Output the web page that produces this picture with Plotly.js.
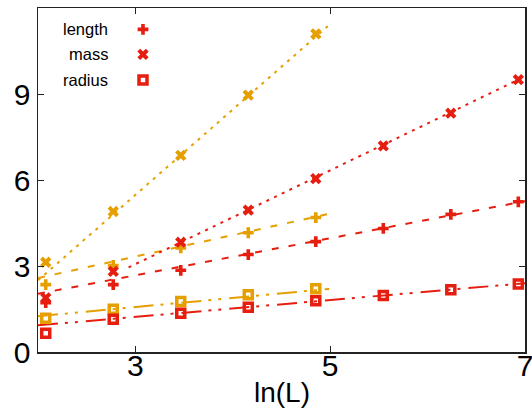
<!DOCTYPE html>
<html>
<head>
<meta charset="utf-8">
<script src="https://cdn.plot.ly/plotly-3.0.1.min.js"></script>
<style>
  html, body { margin: 0; padding: 0; background: #fff; }
  #chart { width: 532px; height: 408px; }
</style>
</head>
<body>
<div id="chart"></div>
<script>
// System sizes L; x axis is ln(L)
const sizesRed = [8, 16, 32, 64, 128, 256, 512, 1024];
const sizesOrange = [8, 16, 32, 64, 128];

// Red series (all sizes)
const redLength = [1.72, 2.35, 2.85, 3.40, 3.85, 4.31, 4.80, 5.24];
const redMass   = [1.89, 2.81, 3.83, 4.95, 6.05, 7.19, 8.33, 9.50];
const redRadius = [0.65, 1.14, 1.35, 1.56, 1.79, 1.97, 2.17, 2.37];

// Orange series (smaller sizes)
const orangeLength = [2.35, 3.02, 3.63, 4.16, 4.69];
const orangeMass   = [3.13, 4.90, 6.86, 8.96, 11.10];
const orangeRadius = [1.18, 1.49, 1.76, 2.00, 2.21];

// Fitted straight lines (end points in ln(L), value)
const redLengthFitX = [2, 7],     redLengthFitY = [2.03, 5.26];
const redMassFitX = [2.93, 7],    redMassFitY = [2.95, 9.61];
const redRadiusFitX = [2, 7],     redRadiusFitY = [0.93, 2.40];
const orangeLengthFitX = [2, 4.99], orangeLengthFitY = [2.58, 4.82];
const orangeMassFitX = [2, 4.99],   orangeMassFitY = [2.50, 11.41];
const orangeRadiusFitX = [2, 4.99], orangeRadiusFitY = [1.25, 2.20];

// Axis ticks and labels
const xTicks = [3, 5, 7];
const yTicks = [0, 3, 6, 9];
const xTitle = 'ln(L)';

// Legend
const legendNames = ['length', 'mass', 'radius'];

const RED = '#e51e10';
const ORANGE = '#e69f00';
const FONT = 'Liberation Sans, Arial, Helvetica, sans-serif';

const xRed = sizesRed.map(Math.log);
const xOrange = sizesOrange.map(Math.log);

const DASH_LEN = '7px,10px';
const DASH_MASS = '3px,5.5px';
const DASH_RAD = '20px,7px,3px,7px,3px,8px';

function fitLine(x, y, color, dash) {
  return { x: x, y: y, type: 'scatter', mode: 'lines', showlegend: false, hoverinfo: 'skip',
           line: { color: color, width: 2, dash: dash } };
}
const mk = {
  length: (c) => ({ symbol: 'cross', size: 9, color: c, line: { width: 0 } }),
  mass:   (c) => ({ symbol: 'x', size: 10, color: c, line: { width: 0 } }),
  radius: (c) => ({ symbol: 'square-open', size: 8, color: c, line: { width: 3.5, color: c } })
};
function pts(x, y, marker) {
  return { x: x, y: y, type: 'scatter', mode: 'markers', showlegend: false, marker: marker };
}

const traces = [
  fitLine(orangeMassFitX, orangeMassFitY, ORANGE, DASH_MASS),
  fitLine(orangeLengthFitX, orangeLengthFitY, ORANGE, DASH_LEN),
  fitLine(orangeRadiusFitX, orangeRadiusFitY, ORANGE, DASH_RAD),
  fitLine(redMassFitX, redMassFitY, RED, DASH_MASS),
  fitLine(redLengthFitX, redLengthFitY, RED, DASH_LEN),
  fitLine(redRadiusFitX, redRadiusFitY, RED, DASH_RAD),
  pts(xOrange, orangeMass, mk.mass(ORANGE)),
  pts(xOrange, orangeLength, mk.length(ORANGE)),
  pts(xOrange, orangeRadius, mk.radius(ORANGE)),
  pts(xRed, redMass, mk.mass(RED)),
  pts(xRed, redLength, mk.length(RED)),
  pts(xRed, redRadius, mk.radius(RED)),
];

// legend key symbols, in a hidden overlay axis spanning the plot area (0..1)
const keyX = 0.2156;
const keyY = [0.938, 0.865, 0.791];
const keyMarkers = [mk.length(RED), mk.mass(RED), mk.radius(RED)];
keyMarkers.forEach((m, i) => {
  traces.push({ x: [keyX], y: [keyY[i]], xaxis: 'x2', yaxis: 'y2', type: 'scatter',
                mode: 'markers', showlegend: false, hoverinfo: 'skip', marker: m });
});

const annotations = legendNames.map((n, i) => ({
  text: n, xref: 'paper', yref: 'paper', x: 0.147, y: keyY[i],
  xanchor: 'right', yanchor: 'middle', showarrow: false,
  font: { family: FONT, size: 16.5, color: '#000' }
}));
// x-axis title (placed as annotation so it can sit as low as in the original)
annotations.push({
  text: xTitle, xref: 'paper', yref: 'paper', x: 0.5, y: -0.068,
  xanchor: 'center', yanchor: 'top', showarrow: false,
  font: { family: FONT, size: 28, color: '#000' }
});

const axisCommon = {
  ticks: 'inside', ticklen: 6, tickwidth: 1, tickcolor: '#222',
  mirror: 'allticks', showline: true, linecolor: '#222', linewidth: 1.5,
  showgrid: false, zeroline: false, ticklabeloverflow: 'allow',
  tickfont: { family: FONT, size: 30, color: '#000' }
};

const layout = {
  width: 532, height: 408,
  margin: { l: 38, r: 7, t: 8, b: 56 },
  paper_bgcolor: '#fff', plot_bgcolor: '#fff',
  showlegend: false,
  xaxis: Object.assign({}, axisCommon, {
    range: [2, 7], tickvals: xTicks, ticktext: xTicks.map(String),
    ticklabelstandoff: -14,
    automargin: false
  }),
  yaxis: Object.assign({}, axisCommon, {
    range: [0, 12], tickvals: yTicks, ticktext: yTicks.map(String), automargin: false
  }),
  xaxis2: { overlaying: 'x', anchor: 'y2', range: [0, 1], visible: false, fixedrange: true },
  yaxis2: { overlaying: 'y', anchor: 'x2', range: [0, 1], visible: false, fixedrange: true },
  annotations: annotations
};

Plotly.newPlot('chart', traces, layout, { staticPlot: true, displayModeBar: false });
</script>
</body>
</html>
